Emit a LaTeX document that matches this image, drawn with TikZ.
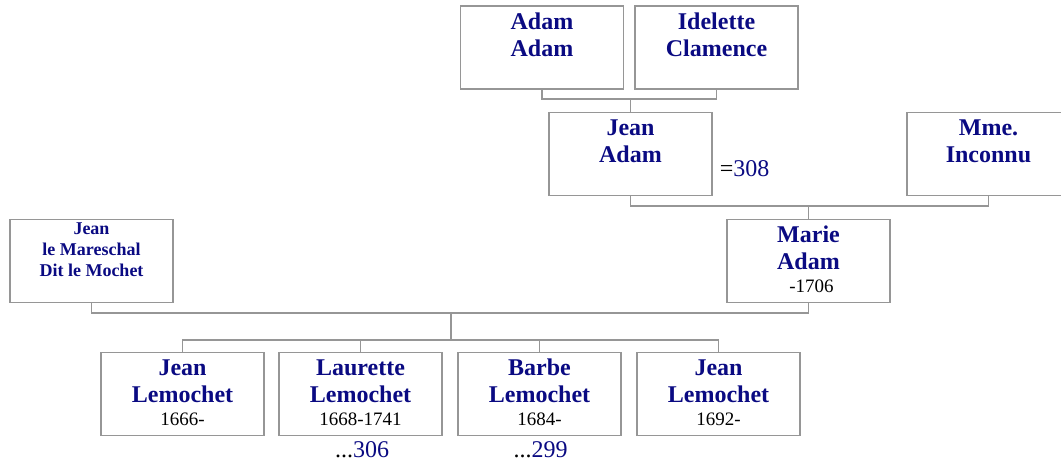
\documentclass[tikz,border=0pt]{standalone}
\usepackage{fontspec}
\setmainfont{Liberation Serif}
\definecolor{nameblue}{RGB}{10,10,130}
\definecolor{linegray}{RGB}{150,150,150}
\tikzset{
  person/.style={draw=linegray, line width=1.5pt, minimum width=163pt, minimum height=83pt, inner sep=0pt},
  nametext/.style={text=nameblue, font=\fontsize{24}{27}\selectfont\bfseries, align=center, anchor=north, inner sep=0pt},
  smallname/.style={text=nameblue, font=\fontsize{18}{21}\selectfont\bfseries, align=center, anchor=north, inner sep=0pt},
  datetext/.style={font=\fontsize{19}{22}\selectfont, anchor=base, inner sep=0pt},
  reftext/.style={font=\fontsize{24}{27}\selectfont, anchor=base, inner sep=0pt},
  link/.style={draw=linegray, line width=1.5pt},
}
\begin{document}
\begin{tikzpicture}[x=1pt, y=-1pt]
\useasboundingbox (0,0) rectangle (1061,464);
\clip (0,0) rectangle (1061,464);
% boxes
\node[person] (aa) at (542,47.5) {};
\node[person] (ic) at (716.5,47.5) {};
\node[person] (ja) at (630.5,154) {};
\node[person] (mi) at (988.5,154) {};
\node[person] (jm) at (91.5,261) {};
\node[person] (ma) at (808.5,261) {};
\node[person] (c1) at (182.5,394) {};
\node[person] (c2) at (360.5,394) {};
\node[person] (c3) at (539.5,394) {};
\node[person] (c4) at (718.5,394) {};
% names
\node[nametext, yshift=-5.1pt] (aa-t) at (aa.north) {\strut Adam\\\strut Adam};
\node[nametext, yshift=-5.1pt] (ic-t) at (ic.north) {\strut Idelette\\\strut Clamence};
\node[nametext, yshift=-5.1pt] (ja-t) at (ja.north) {\strut Jean\\\strut Adam};
\node[nametext, yshift=-5.1pt] (mi-t) at (mi.north) {\strut Mme.\\\strut Inconnu};
\node[smallname, yshift=-0.5pt] (jm-t) at (jm.north) {\strut Jean\\\strut le Mareschal\\\strut Dit le Mochet};
\node[nametext, yshift=-5.1pt] (ma-t) at (ma.north) {\strut Marie\\\strut Adam};
\node[nametext, yshift=-5.1pt] (c1-t) at (c1.north) {\strut Jean\\\strut Lemochet};
\node[nametext, yshift=-5.1pt] (c2-t) at (c2.north) {\strut Laurette\\\strut Lemochet};
\node[nametext, yshift=-5.1pt] (c3-t) at (c3.north) {\strut Barbe\\\strut Lemochet};
\node[nametext, yshift=-5.1pt] (c4-t) at (c4.north) {\strut Jean\\\strut Lemochet};
% dates
\node[datetext] (ma-d) at ([xshift=3pt,yshift=-74pt]ma.north) {-1706};
\node[datetext] (c1-d) at ([yshift=-74pt]c1.north) {1666-};
\node[datetext] (c2-d) at ([yshift=-74pt]c2.north) {1668-1741};
\node[datetext] (c3-d) at ([yshift=-74pt]c3.north) {1684-};
\node[datetext] (c4-d) at ([yshift=-74pt]c4.north) {1692-};
% references
\node[reftext, anchor=base west] (ja-r) at ([xshift=7pt,yshift=-22.7pt]ja.east) {=\textcolor{nameblue}{308}};
\node[reftext] (c2-r) at ([xshift=1.5pt,yshift=-21pt]c2.south) {...\textcolor{nameblue}{306}};
\node[reftext] (c3-r) at ([xshift=1pt,yshift=-21pt]c3.south) {...\textcolor{nameblue}{299}};
% junctions
\coordinate (j1) at (630.5,99);
\coordinate (j2) at (808.5,206);
\coordinate (j3) at (451,313);
\coordinate (j4) at (451,340);
% connectors
\draw[link] (aa.south) |- (j1) -| (ic.south);
\draw[link] (j1) -- (ja.north);
\draw[link] (ja.south) |- (j2) -| (mi.south);
\draw[link] (j2) -- (ma.north);
\draw[link] (jm.south) |- (j3) -| (ma.south);
\draw[link] (j3) -- (j4);
\draw[link] (c1.north) |- (j4) -| (c4.north);
\draw[link] (c2.north) -- (c2.north |- j4);
\draw[link] (c3.north) -- (c3.north |- j4);
\end{tikzpicture}
\end{document}
